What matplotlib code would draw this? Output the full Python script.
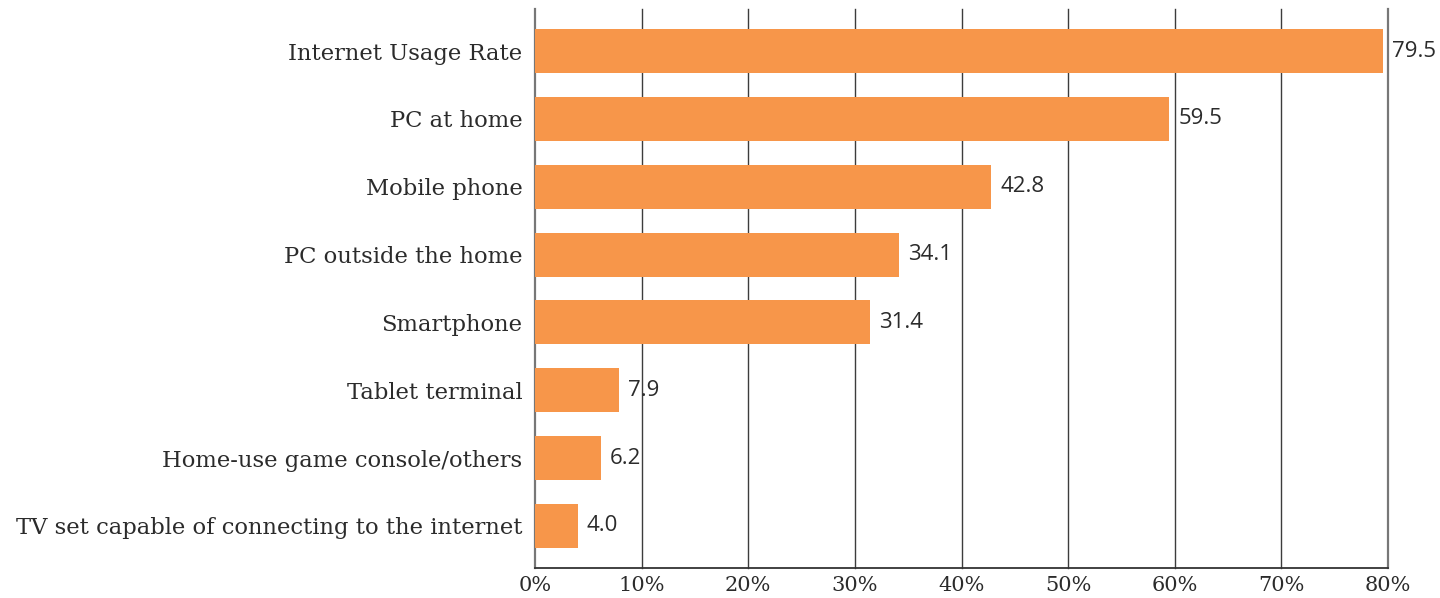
import matplotlib.pyplot as plt
import numpy as np

categories = ['Internet Usage Rate', 'PC at home', 'Mobile phone', 'PC outside the home',
              'Smartphone', 'Tablet terminal', 'Home-use game console/others',
              'TV set capable of connecting to the internet']
values = [79.5, 59.5, 42.8, 34.1, 31.4, 7.9, 6.2, 4.0]
ticks = [0, 10, 20, 30, 40, 50, 60, 70, 80]
tick_labels = ['0%', '10%', '20%', '30%', '40%', '50%', '60%', '70%', '80%']

bar_color = '#F7964A'
serif = ['DejaVu Serif']
sans = ['Open Sans', 'DejaVu Sans']

fig = plt.figure(figsize=(14.4, 5.98), dpi=100)
ax = fig.add_axes([535 / 1440, 30 / 598, 853 / 1440, 559 / 598])

y = np.arange(len(categories))
ax.barh(y, values, height=0.65, color=bar_color, zorder=3)

# vertical grid lines, the outer ones a bit lighter
for t in ticks:
    c = '#777777' if t in (0, 80) else '#3c3c3c'
    lw = 1.6 if t in (0, 80) else 1.0
    ax.axvline(t, color=c, linewidth=lw, zorder=1, clip_on=False)

for yi, v in zip(y, values):
    ax.text(v + 0.85, yi, f'{v:.1f}', va='center', ha='left', fontsize=16,
            family=sans, color='#2b2b2b', zorder=4)

ax.set_xlim(0, 80)
ax.set_ylim(len(categories) - 0.38, -0.62)
ax.set_yticks(y)
ax.set_yticklabels(categories, family=serif, fontsize=16.3, color='#2b2b2b')
ax.set_xticks(ticks)
ax.set_xticklabels(tick_labels, family=serif, fontsize=15, color='#2b2b2b')
ax.tick_params(axis='both', length=0)
ax.tick_params(axis='y', pad=9)
ax.tick_params(axis='x', pad=6)

for side in ['top', 'right', 'left']:
    ax.spines[side].set_visible(False)
ax.spines['bottom'].set_color('#333333')
ax.spines['bottom'].set_linewidth(1.3)

fig.savefig('out.png', dpi=100)
